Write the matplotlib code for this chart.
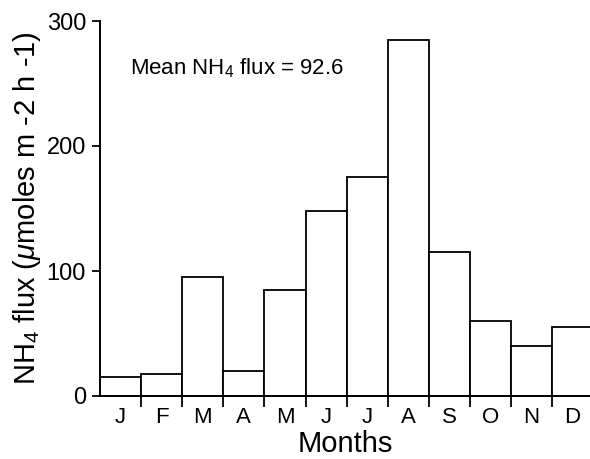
import matplotlib
matplotlib.use("Agg")
import matplotlib.pyplot as plt
from matplotlib.ticker import FixedLocator

plt.rcParams['font.family'] = ['Liberation Sans', 'DejaVu Sans']
plt.rcParams['mathtext.fontset'] = 'custom'
plt.rcParams['mathtext.rm'] = 'Liberation Sans'
plt.rcParams['mathtext.it'] = 'Liberation Sans:italic'

months = ['J', 'F', 'M', 'A', 'M', 'J', 'J', 'A', 'S', 'O', 'N', 'D']
flux = [15, 18, 95, 20, 85, 148, 175, 285, 115, 60, 40, 55]
mean_flux = 92.6

fig = plt.figure(figsize=(5.9, 4.59), dpi=100)
ax = fig.add_axes([100 / 590, 63 / 459, 490 / 590, 375 / 459])

x = [i + 0.5 for i in range(len(months))]
ax.bar(x, flux, width=1.0, color='white', edgecolor='black', linewidth=1.3)

ax.set_xlim(0, 490 / 41.1)
ax.set_ylim(0, 300)
ax.set_yticks([0, 100, 200, 300])

# ticks on month boundaries, labels centred under the bars
ax.xaxis.set_major_locator(FixedLocator(list(range(1, 12))))
ax.xaxis.set_minor_locator(FixedLocator(x))
ax.set_xticklabels([], minor=False)
ax.set_xticklabels(months, minor=True)
ax.tick_params(axis='x', which='major', direction='out', length=8, width=1.3)
ax.tick_params(axis='x', which='minor', length=0, labelsize=16, pad=8)
ax.tick_params(axis='y', direction='out', length=6, width=1.3, labelsize=17, pad=4)

for side in ['top', 'right']:
    ax.spines[side].set_visible(False)
for side in ['left', 'bottom']:
    ax.spines[side].set_linewidth(1.4)

ax.set_xlabel('Months', fontsize=21, labelpad=1)
ax.set_ylabel(r'NH$_4$ flux ($\mu$moles m -2 h -1)', fontsize=21, labelpad=3)

ax.text(0.061, 0.875, 'Mean NH$_4$ flux = %.1f' % mean_flux,
        transform=ax.transAxes, fontsize=16, ha='left', va='center')

fig.savefig('out.png', dpi=100)
